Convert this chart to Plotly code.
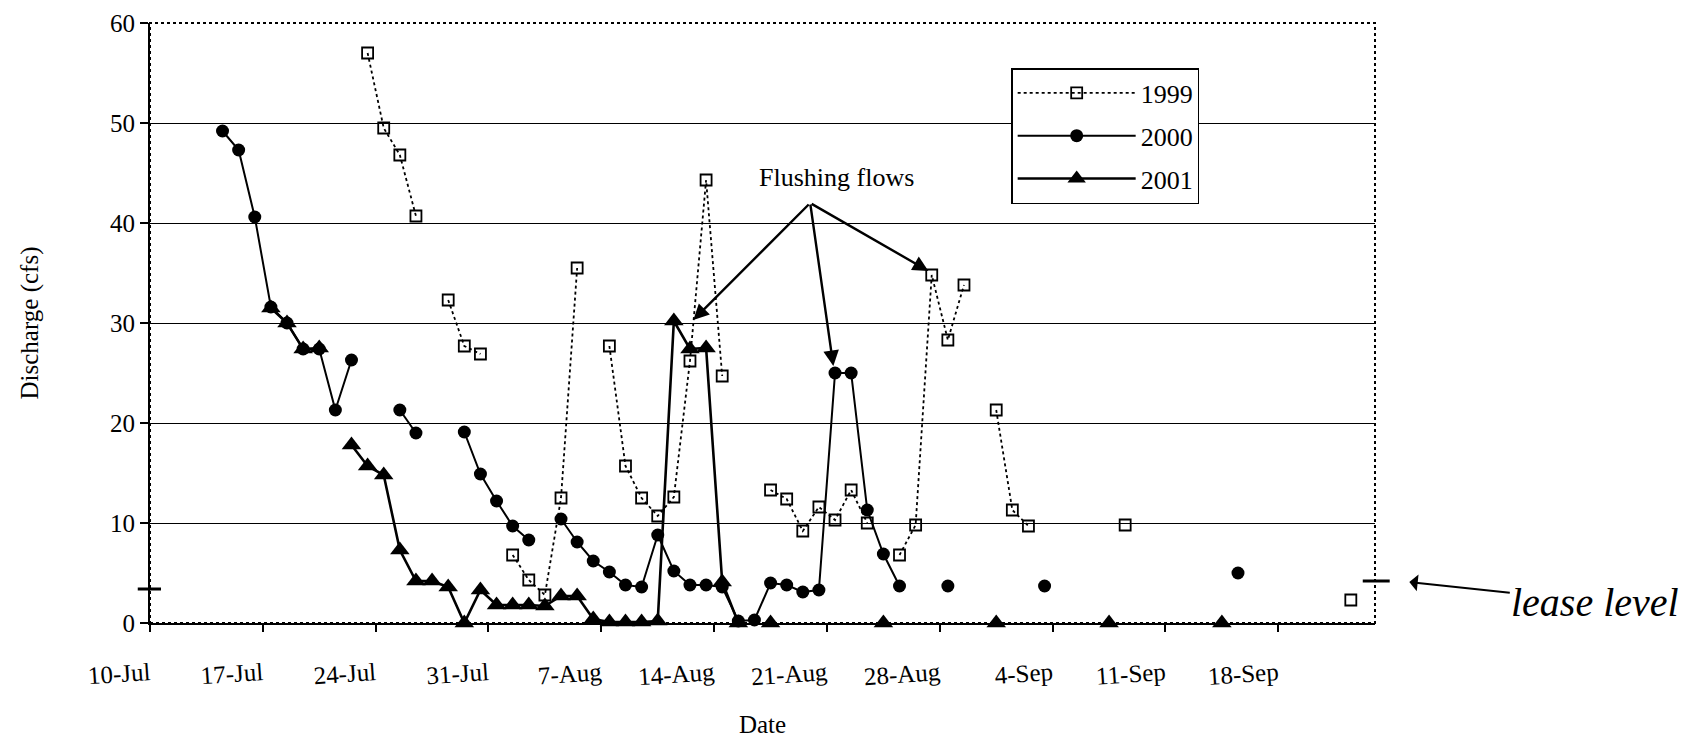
import plotly.graph_objects as go
import pandas as pd

YEAR = "2000"  # common reference year so the three seasons share one date axis

# ---------------- data (month-day, discharge in cfs) ----------------
dates_1999 = ["07-23", "07-24", "07-25", "07-26", "07-27", "07-28", "07-29", "07-30", "07-31",
              "08-01", "08-02", "08-03", "08-04", "08-05", "08-06", "08-07", "08-08", "08-09",
              "08-10", "08-11", "08-12", "08-13", "08-14", "08-15", "08-17", "08-18", "08-19",
              "08-20", "08-21", "08-22", "08-23", "08-24", "08-25", "08-26", "08-27", "08-28",
              "08-29", "08-30", "08-31", "09-01", "09-02", "09-03", "09-08", "09-09", "09-22"]
q_1999 = [57.0, 49.5, 46.8, 40.7, None, 32.3, 27.7, 26.9, None,
          6.8, 4.3, 2.8, 12.5, 35.5, None, 27.7, 15.7, 12.5,
          10.7, 12.6, 26.2, 44.3, 24.7, None, 13.3, 12.4, 9.2,
          11.6, 10.3, 13.3, 10.0, None, 6.8, 9.8, 34.8, 28.3,
          33.8, None, 21.3, 11.3, 9.7, None, 9.8, None, 2.3]

dates_2000 = ["07-14", "07-15", "07-16", "07-17", "07-18", "07-19", "07-20", "07-21", "07-22",
              "07-23", "07-25", "07-26", "07-27", "07-29", "07-30", "07-31", "08-01", "08-02",
              "08-03", "08-04", "08-05", "08-06", "08-07", "08-08", "08-09", "08-10", "08-11",
              "08-12", "08-13", "08-14", "08-15", "08-16", "08-17", "08-18", "08-19", "08-20",
              "08-21", "08-22", "08-23", "08-24", "08-25", "08-26", "08-28", "08-29", "09-03",
              "09-04", "09-15"]
q_2000 = [49.2, 47.3, 40.6, 31.6, 30.0, 27.4, 27.4, 21.3, 26.3,
          None, 21.3, 19.0, None, 19.1, 14.9, 12.2, 9.7, 8.3,
          None, 10.4, 8.1, 6.2, 5.1, 3.8, 3.6, 8.8, 5.2,
          3.8, 3.8, 3.6, 0.2, 0.3, 4.0, 3.8, 3.1, 3.3,
          25.0, 25.0, 11.3, 6.9, 3.7, None, 3.7, None, 3.7,
          None, 5.0]

dates_2001 = ["07-17", "07-18", "07-19", "07-20", "07-21", "07-22", "07-23", "07-24", "07-25",
              "07-26", "07-27", "07-28", "07-29", "07-30", "07-31", "08-01", "08-02", "08-03",
              "08-04", "08-05", "08-06", "08-07", "08-08", "08-09", "08-10", "08-11", "08-12",
              "08-13", "08-14", "08-15", "08-16", "08-17", "08-18", "08-24", "08-25", "08-31",
              "09-01", "09-07", "09-08", "09-14"]
q_2001 = [31.5, 30.0, 27.4, 27.5, None, 17.8, 15.7, 14.8, 7.3,
          4.2, 4.2, 3.6, 0.0, 3.3, 1.8, 1.8, 1.8, 1.7,
          2.7, 2.7, 0.4, 0.1, 0.1, 0.1, 0.2, 30.2, 27.4,
          27.5, 4.1, 0.0, None, 0.0, None, 0.0, None, 0.0,
          None, 0.0, None, 0.0]

tick_dates = ["07-10", "07-17", "07-24", "07-31", "08-07", "08-14",
              "08-21", "08-28", "09-04", "09-11", "09-18"]
tick_text = ["10-Jul", "17-Jul", "24-Jul", "31-Jul", "7-Aug", "14-Aug",
             "21-Aug", "28-Aug", "4-Sep", "11-Sep", "18-Sep"]

lease_level_left = 3.4   # hand-drawn marks (slightly uneven in the original)
lease_level_right = 4.2

# --------------------------------------------------------------------
FONT = "Liberation Serif, Times New Roman, serif"


def to_dt(md):
    return pd.to_datetime([f"{YEAR}-{d}" for d in md])


def day_centre(md):
    # spreadsheet date axis: each day's value sits in the middle of its day slot
    return to_dt(md) + pd.Timedelta(hours=12)


fig = go.Figure()

fig.add_trace(go.Scatter(
    x=day_centre(dates_1999), y=q_1999, name="1999", mode="lines+markers",
    line=dict(color="black", width=1.8, dash="dot"),
    marker=dict(symbol="square-open", size=11, color="black", line=dict(width=1.8)),
    legendgroup="a", cliponaxis=False))

fig.add_trace(go.Scatter(
    x=day_centre(dates_2000), y=q_2000, name="2000", mode="lines+markers",
    line=dict(color="black", width=2),
    marker=dict(symbol="circle", size=13, color="black"),
    legendgroup="b", cliponaxis=False))

fig.add_trace(go.Scatter(
    x=day_centre(dates_2001), y=q_2001, name="2001", mode="lines+markers",
    line=dict(color="black", width=2.6),
    marker=dict(symbol="triangle-up", size=17, color="black"),
    legendgroup="c", cliponaxis=False))

# "Flushing flows" callout
src_x = pd.Timestamp(f"{YEAR}-08-19 23:00")
src_y = 42.0
targets = [(pd.Timestamp(f"{YEAR}-08-12 17:00"), 30.3),
           (pd.Timestamp(f"{YEAR}-08-21 09:30"), 25.7),
           (pd.Timestamp(f"{YEAR}-08-27 07:00"), 35.2)]
for tx, ty in targets:
    fig.add_annotation(x=tx, y=ty, xref="x", yref="y", ax=src_x, ay=src_y,
                       axref="x", ayref="y", text="", showarrow=True,
                       arrowhead=2, arrowsize=1.3, arrowwidth=2.4, arrowcolor="black")
fig.add_annotation(x=pd.Timestamp(f"{YEAR}-08-21 14:00"), y=44.6, xref="x", yref="y",
                   text="Flushing flows", showarrow=False,
                   font=dict(family=FONT, size=26, color="black"))

# hand-drawn lease level marks
fig.add_shape(type="line", xref="paper", yref="y", x0=-0.010, x1=0.009,
              y0=lease_level_left, y1=lease_level_left, line=dict(color="black", width=3))
fig.add_shape(type="line", xref="paper", yref="y", x0=0.990, x1=1.012,
              y0=lease_level_right, y1=lease_level_right, line=dict(color="black", width=3))
fig.add_annotation(x=1.028, y=lease_level_right - 0.1, xref="paper", yref="y",
                   ax=186, ay=20, text="<i>lease level</i>", showarrow=True,
                   arrowhead=1, arrowsize=1.4, arrowwidth=2, arrowcolor="black",
                   font=dict(family=FONT, size=40, color="black"))

# dotted plot-area frame (top/right)
fig.add_shape(type="rect", xref="paper", yref="paper", x0=0, x1=1, y0=0, y1=1,
              line=dict(color="black", width=2, dash="dot"), layer="above")

fig.update_layout(
    width=1691, height=742,
    margin=dict(l=142, r=324, t=15, b=127, autoexpand=False),
    paper_bgcolor="white", plot_bgcolor="white",
    font=dict(family=FONT, size=25, color="black"),
    showlegend=True,
    legend=dict(x=0.703, y=0.925, xanchor="left", yanchor="top",
                bordercolor="black", borderwidth=1.5, bgcolor="white",
                font=dict(family=FONT, size=26, color="black"),
                itemwidth=118, tracegroupgap=6, traceorder="grouped"),
)

fig.update_xaxes(
    type="date", automargin=False,
    range=[to_dt(["07-10"])[0], to_dt(["09-24"])[0]],
    tickmode="array", tickvals=to_dt(tick_dates), ticktext=tick_text,
    tickangle=-4, ticks="outside", ticklen=7, tickwidth=2, tickcolor="black",
    ticklabelstandoff=18,
    showline=True, linecolor="black", linewidth=2, showgrid=False, zeroline=False,
    tickfont=dict(family=FONT, size=25, color="black"),
    title=dict(text="Date", font=dict(family=FONT, size=25), standoff=26),
)

fig.update_yaxes(
    range=[0, 60], tickmode="linear", tick0=0, dtick=10, automargin=False,
    ticks="outside", ticklen=8, tickwidth=2, tickcolor="black",
    showline=True, linecolor="black", linewidth=2,
    showgrid=True, gridcolor="black", gridwidth=1.2, zeroline=False,
    tickfont=dict(family=FONT, size=25, color="black"),
    title=dict(text="Discharge (cfs)", font=dict(family=FONT, size=25), standoff=64),
)

fig.write_html("out.html")
